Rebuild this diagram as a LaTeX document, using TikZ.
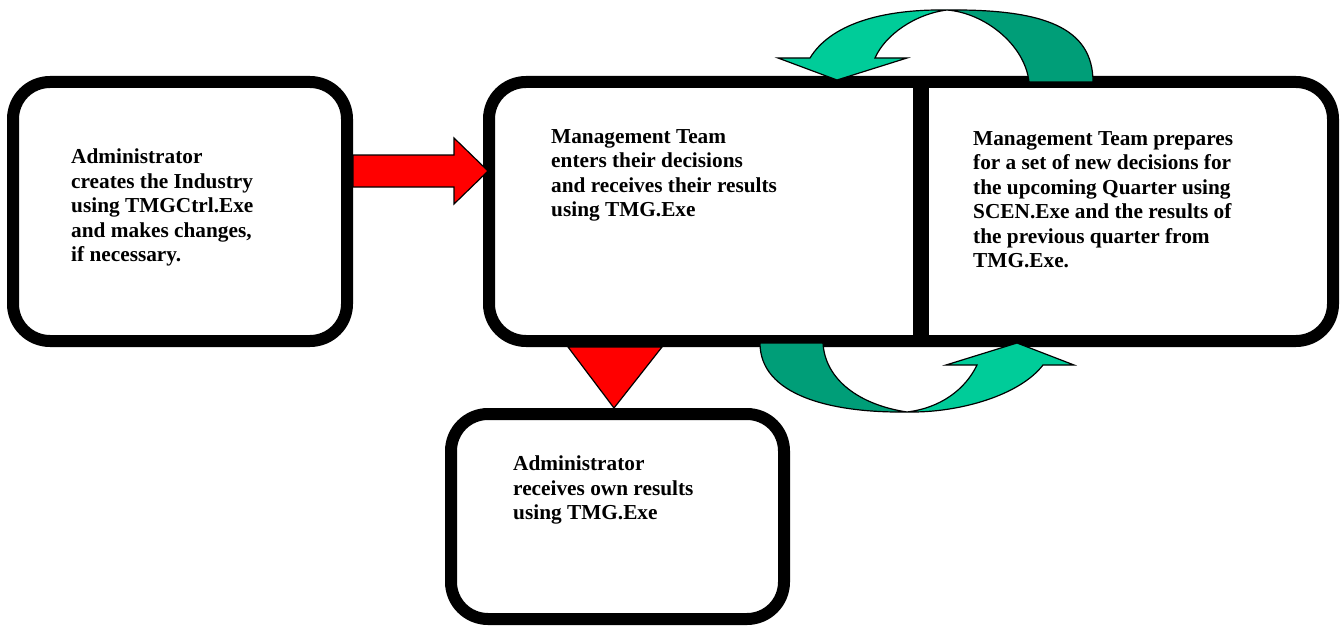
\documentclass[tikz,border=0pt]{standalone}
\usepackage{fontspec}
\setmainfont{Liberation Serif}
\usepackage{tikz}
\usetikzlibrary{positioning}
\definecolor{loopfront}{RGB}{0,204,153}
\definecolor{loopback}{RGB}{0,158,120}
\tikzstyle{frame} = [draw=black, line width=12pt, rounded corners=37pt, outer sep=0]
\tikzstyle{divider} = [draw=black, line width=16pt]
\tikzstyle{slot} = [outer sep=0, inner sep=0]
\tikzstyle{txt} = [anchor=north west, inner sep=0, align=left, font=\bfseries\fontsize{21.3}{24.5}\selectfont]
\tikzstyle{redblock} = [fill=red, draw=black, line width=1.2pt]
\tikzstyle{frontblock} = [fill=loopfront, draw=black, line width=1.2pt]
\tikzstyle{backblock} = [fill=loopback, draw=black, line width=1.2pt]

\begin{document}
\begin{tikzpicture}[x=1pt, y=-1pt]
	\useasboundingbox (0,0) rectangle (1342,626);

	% the four boxes
	\node (Admin) [frame, minimum width=334pt, minimum height=259pt] at (180,211.5) {};
	\node (Team) [slot, minimum width=432pt, minimum height=259pt] at (705,211.5) {};
	\node (Prep) [slot, minimum width=412pt, minimum height=259pt] at (1127,211.5) {};
	\draw [frame] (Team.north west) rectangle (Prep.south east);
	\draw [divider] (Team.north east) -- (Team.south east);
	\node (Results) [frame, minimum width=333pt, minimum height=205pt] at (617.5,516.5) {};

	\node (AdminText) [txt] at (71,149) {Administrator\\creates the Industry\\using TMGCtrl.Exe\\and makes changes,\\if necessary.};
	\node (TeamText) [txt] at (551,129) {Management Team\\enters their decisions\\and receives their results\\using TMG.Exe};
	\node (PrepText) [txt] at (973,131) {Management Team prepares\\for a set of new decisions for\\the upcoming Quarter using\\SCEN.Exe and the results of\\the previous quarter from\\TMG.Exe.};
	\node (ResultsText) [txt] at (513,456) {Administrator\\receives own results\\using TMG.Exe};

	% admin to team
	\coordinate (RedTail) at ([shift={(6,-40.5)}]Admin.east);
	\coordinate (RedTip) at ([shift={(-1,-40.5)}]Team.west);
	\draw [redblock] (RedTail) ++(0,-16) -- ++(101,0) -- ++(0,-17) -- (RedTip) -- ++(-34,33) -- ++(0,-17) -- ++(-101,0) -- cycle;

	% team to results
	\coordinate (DownTop) at ([shift={(-91,6)}]Team.south);
	\coordinate (DownTip) at ([shift={(-3.5,-6)}]Results.north);
	\draw [redblock] (DownTop) ++(-46,0) -- ++(94,0) -- (DownTip) -- cycle;

	% loop over the top, prep back to team
	\begin{scope}[shift={(Team.north east)}]
		\draw [backblock] (108,0) -- (172,0) .. controls (172,-54) and (124,-73) .. (26,-72) .. controls (64,-69) and (104,-37) .. (108,0) -- cycle;
		\draw [frontblock] (26,-72) .. controls (-41,-73) and (-91,-57) .. (-111,-24) -- (-143,-24) -- (-84,-2) -- (-14,-24) -- (-46,-24) .. controls (-36,-47) and (-6,-68) .. (26,-72) -- cycle;
	\end{scope}

	% loop underneath, team on to prep
	\begin{scope}[shift={(Team.south east)}]
		\draw [backblock] (-161,2) .. controls (-161,54) and (-91,72) .. (-14,71) .. controls (-61,64) and (-96,39) .. (-98,2) -- cycle;
		\draw [frontblock] (-14,71) .. controls (39,72) and (99,54) .. (122,24) -- (153,24) -- (96,2) -- (25,24) -- (56,24) .. controls (44,49) and (19,67) .. (-14,71) -- cycle;
	\end{scope}
\end{tikzpicture}
\end{document}
